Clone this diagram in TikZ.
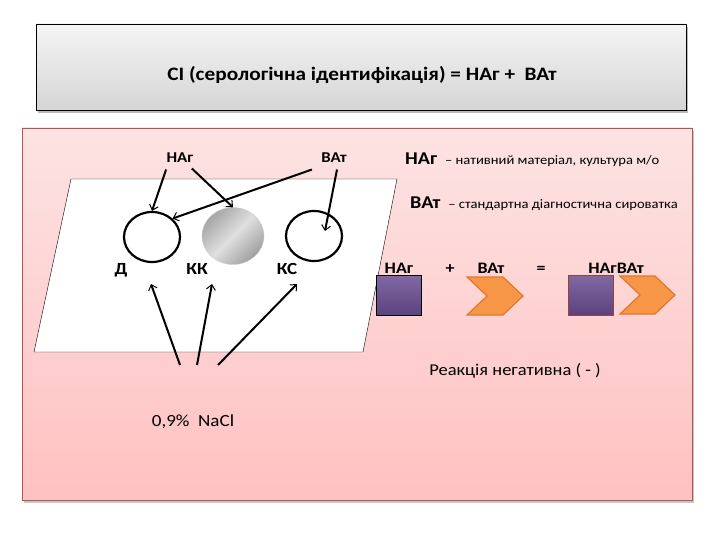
\documentclass[tikz,border=0pt]{standalone}
\usepackage{fontspec}
\setmainfont{Carlito}[FakeStretch=1.12]
\usetikzlibrary{arrows.meta,shapes.geometric}
\definecolor{SlideBorder}{HTML}{B85450}
\definecolor{PinkTop}{HTML}{FDE3E3}
\definecolor{PinkBot}{HTML}{FFC1C1}
\definecolor{AgFill}{HTML}{6B4E94}
\definecolor{AtFill}{HTML}{F79646}
\definecolor{AtLine}{HTML}{E0782C}
\tikzset{>=Stealth,
 arr/.style={-{Straight Barb[length=5pt,width=9pt,line width=1pt]},line width=2pt},
 well/.style={ellipse,draw,line width=2.2pt,minimum width=56pt,minimum height=50pt},
 lab/.style={anchor=base,font=\bfseries\fontsize{17}{19}\selectfont},
 row/.style={anchor=base,font=\bfseries\fontsize{16}{18}\selectfont},
 ag/.style={draw,top color=AgFill!85!white,bottom color=AgFill!85!black,
  minimum width=45pt,minimum height=40pt,inner sep=0pt},
 atshape/.style={draw=AtLine,fill=AtFill,line width=1.2pt}}
\begin{document}
\begin{tikzpicture}[x=1pt,y=-1pt]
\useasboundingbox (0,0) rectangle (720,540);
% title box
\fill[gray!55] (38,27) rectangle (688,113);
\shade[top color=gray!8,bottom color=gray!33,draw=black] (36,24) rectangle (686,110);
\node[anchor=base,font=\bfseries\fontsize{19}{21}\selectfont] (title) at (362,81)
 {СІ (серологічна ідентифікація) = НАг +\ \ ВАт};
% pink box
\fill[gray!45] (24,131) rectangle (694,503);
\shade[top color=PinkTop,bottom color=PinkBot,draw=SlideBorder] (22,128) rectangle (692,500);
% slide plate
\draw[fill=white] (71,179) -- (397,179) -- (363,352) -- (34,352) -- cycle;
\node[well] (d) at (152,237) {};
\node[ellipse,minimum width=62pt,minimum height=57pt,draw=gray!40,
 shading=axis,left color=gray!70,right color=gray!75,middle color=gray!25,
 shading angle=45] (kk) at (233,236) {};
\node[well] (ks) at (314,236) {};
\foreach \n/\x/\t in {ld/121/Д,lkk/197/КК,lks/287/КС}
 {\node[lab] (\n) at (\x,274) {\t};}
% reagents
\node[lab,font=\bfseries\fontsize{15}{17}\selectfont] (nag) at (180,163) {НАг};
\node[lab,font=\bfseries\fontsize{15}{17}\selectfont] (vat) at (334,163) {ВАт};
\draw[arr] (nag.south west) ++(3,3) coordinate (n1) -- (d.north);
\draw[arr] (nag.south east) ++(-5,2) coordinate (n2) -- (kk.north);
\draw[arr] (vat.south west) ++(-6,3) coordinate (v1) -- (d.north east);
\draw[arr] (vat.south) ++(3,3) coordinate (v2) -- ([xshift=11pt,yshift=5pt]ks.center);
% saline
\node[anchor=base,font=\fontsize{17}{19}\selectfont] (nacl) at (193,426) {0,9\%\ \ NaCl};
\foreach \s/\e in {180/151,197/212,218/297}
 {\coordinate (s\s) at (\s,365); \coordinate (e\s) at (\e,284);
  \draw[arr] (s\s) -- (e\s);}
% legend
\node[anchor=base west,inner sep=0pt] (lg1) at (405,165) {\bfseries\fontsize{18}{20}\selectfont НАг
 \fontsize{13}{15}\mdseries\selectfont\ – нативний матеріал, культура м/о};
\node[anchor=base west,inner sep=0pt] (lg2) at (410,208) {\bfseries\fontsize{18}{20}\selectfont ВАт
 \fontsize{13}{15}\mdseries\selectfont\ – стандартна діагностична сироватка};
% reaction
\node[row] (r1) at (399,273) {НАг};
\node[row] (rp) at (450,273) {+};
\node[row] (r2) at (491,273) {ВАт};
\node[row] (re) at (541,273) {=};
\node[row] (r3) at (616,273) {НАгВАт};
\node[ag] (sq1) at (399,295.5) {};
\node[ag,draw=SlideBorder!80!black] (sq2) at (590.5,295) {};
\draw[atshape] (467,277) -- (503,277) -- (523,296) -- (503,315) -- (467,315) -- (487,296) -- cycle;
\draw[atshape] (620,276) -- (655,276) -- (675,295) -- (655,314) -- (620,314) -- (640,295) -- cycle;
\node[anchor=base,font=\fontsize{16.5}{18}\selectfont] (neg) at (515,375) {Реакція негативна ( - )};
\end{tikzpicture}
\end{document}
